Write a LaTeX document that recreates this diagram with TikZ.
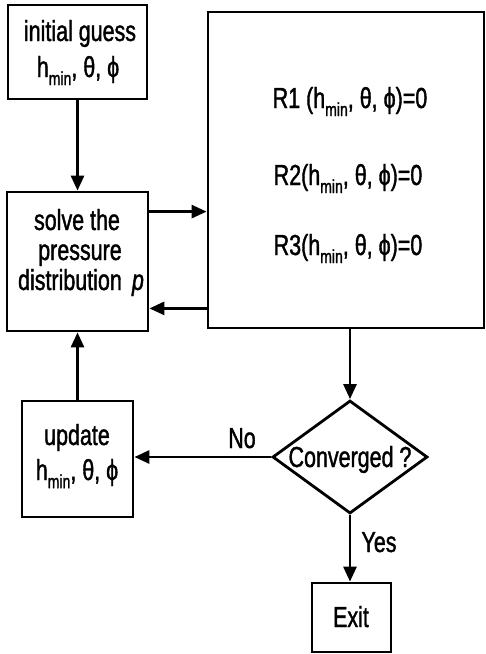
\documentclass[tikz,border=0pt]{standalone}
\usepackage{fontspec}
\setmainfont{Liberation Sans}[FakeStretch=0.74,FakeBold=1.3]
\usetikzlibrary{shapes.geometric,arrows.meta,calc}
\newcommand\hmn{h\raisebox{-0.28em}{\fontsize{19}{19}\selectfont min}}
\begin{document}
\begin{tikzpicture}[x=1pt,y=-1pt,
  box/.style={draw, line width=2.8pt, inner sep=0pt},
  txt/.style={font=\fontsize{29}{33}\selectfont, inner sep=0pt, anchor=base, text height=21pt, text depth=6pt},
  arr/.style={line width=2.8pt, -{Triangle[length=15pt,width=13pt]}}]
\useasboundingbox (0,0) rectangle (486,654);
% boxes
\node[box, minimum width=139pt, minimum height=94pt] (init) at (77.5,52) {};
\node[box, minimum width=141pt, minimum height=139pt] (solve) at (77.5,261.5) {};
\node[box, minimum width=276pt, minimum height=316pt] (big) at (346,170) {};
\node[box, minimum width=111pt, minimum height=116pt] (upd) at (77.5,459) {};
\node[box, diamond, aspect=1.37, minimum width=155pt, minimum height=113pt] (conv) at (350,457) {};
\node[box, minimum width=79pt, minimum height=69pt] (exit) at (351.5,617.5) {};
% texts
\node[txt] (t1) at (80,41) {initial guess};
\node[txt] (t2) at (78,77) {\hmn, θ, ϕ};
\node[txt] (s1) at (77,230) {solve the};
\node[txt] (s2) at (80,260) {pressure};
\node[txt] (s3) at (81,290) {distribution\hspace{0.35em}\textit{p}};
\node[txt] (r1) at (350,108) {R1 (\hmn, θ, ϕ)=0};
\node[txt] (r2) at (348,185) {R2(\hmn, θ, ϕ)=0};
\node[txt] (r3) at (348,255) {R3(\hmn, θ, ϕ)=0};
\node[txt] (u1) at (77,445) {update};
\node[txt] (u2) at (77,480) {\hmn, θ, ϕ};
\node[txt] (c1) at (350,467) {Converged ?};
\node[txt] (no) at (242,448) {No};
\node[txt] (yes) at (379,552) {Yes};
\node[txt] (ex) at (351,627) {Exit};
% connectors
\draw[arr] (init.south) -- (solve.north);
\coordinate (a1) at ([yshift=-21pt]solve.north east);
\draw[arr] (a1) -- (a1 -| big.west);
\coordinate (a2) at ([yshift=24pt]solve.south east);
\draw[arr] (a2 -| big.west) -- (a2);
\draw[arr] (conv.north |- big.south) -- (conv.north);
\draw[arr] (conv.west) -- (conv.west -| upd.east);
\draw[arr] (upd.north) -- (solve.south);
\draw[arr] (conv.south) -- (conv.south |- exit.north);
\end{tikzpicture}
\end{document}
